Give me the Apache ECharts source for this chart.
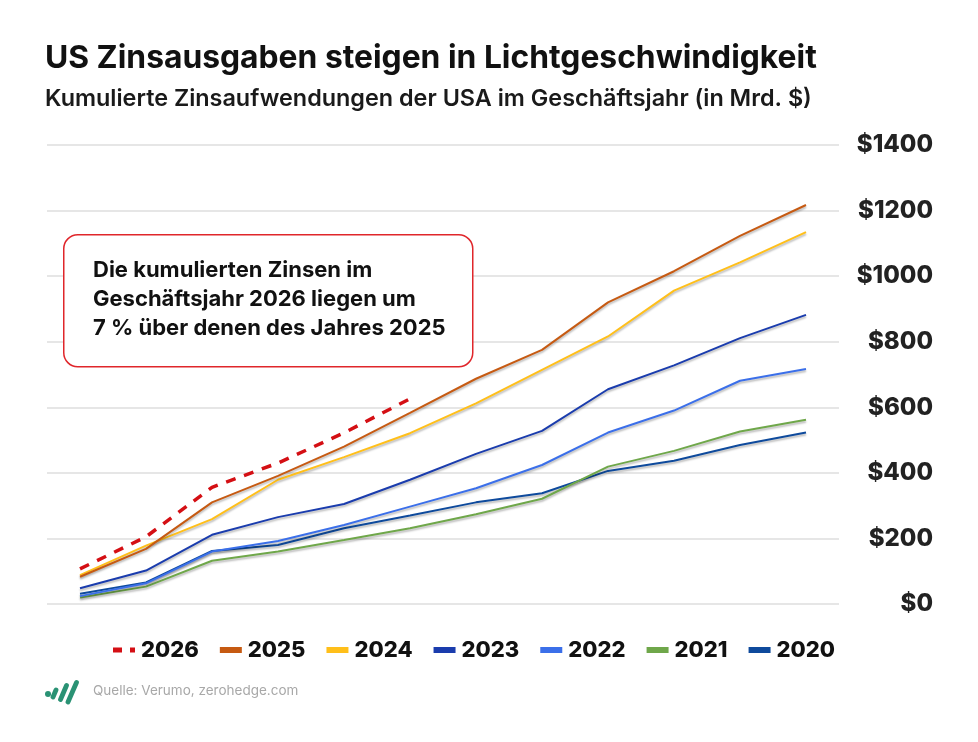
<!DOCTYPE html>
<html>
<head>
<meta charset="utf-8">
<script src="https://cdn.jsdelivr.net/npm/echarts@6/dist/echarts.min.js"></script>
<style>
html,body{margin:0;padding:0;background:#fff;}
#chart{width:978px;height:742px;}
</style>
</head>
<body>
<div id="chart"></div>
<script>
// Fiscal-year months (hidden on the axis)
const months = ['Okt','Nov','Dez','Jan','Feb','Mär','Apr','Mai','Jun','Jul','Aug','Sep'];
const yTicks = [0, 200, 400, 600, 800, 1000, 1200, 1400];

const fy2026 = [107, 205, 356, 430, 522, 626];
const fy2025 = [83, 168, 310, 391, 480, 583, 687, 775, 920, 1015, 1123, 1217];
const fy2024 = [88, 178, 259, 379, 448, 521, 612, 714, 816, 956, 1042, 1134];
const fy2023 = [48, 102, 211, 265, 305, 379, 458, 528, 655, 728, 811, 882];
const fy2022 = [24, 63, 160, 192, 241, 297, 353, 424, 523, 590, 681, 717];
const fy2021 = [20, 53, 132, 160, 195, 231, 274, 321, 419, 467, 526, 562];
const fy2020 = [31, 66, 162, 180, 231, 270, 310, 338, 406, 437, 485, 523];

const FONT = 'Inter, "Noto Sans", sans-serif';
const shadow = {shadowColor: 'rgba(0,0,0,0.28)', shadowBlur: 2, shadowOffsetY: 2};

function lineSeries(name, data, color, extra) {
  return Object.assign({
    name: name, type: 'line', data: data, symbol: 'none', smooth: false,
    lineStyle: Object.assign({color: color, width: 2}, shadow),
    itemStyle: {color: color},
    emphasis: {disabled: true}
  }, extra || {});
}

const chart = echarts.init(document.getElementById('chart'), null, {renderer: 'canvas'});
chart.setOption({
  animation: false,
  backgroundColor: '#ffffff',
  textStyle: {fontFamily: FONT},
  title: [{
    text: 'US Zinsausgaben steigen in Lichtgeschwindigkeit',
    left: 45, top: 42, padding: 0,
    textStyle: {fontFamily: FONT, fontSize: 31.8, fontWeight: 'bold', color: '#111'}
  }, {
    text: 'Kumulierte Zinsaufwendungen der USA im Geschäftsjahr (in Mrd. $)',
    left: 45, top: 87, padding: 0,
    textStyle: {fontFamily: FONT, fontSize: 23.4, fontWeight: 600, color: '#1a1a1a'}
  }],
  grid: {left: 47, width: 792, top: 145, height: 459, containLabel: false},
  xAxis: {
    type: 'category', data: months, boundaryGap: true,
    axisLine: {show: false}, axisTick: {show: false}, axisLabel: {show: false},
    splitLine: {show: false}
  },
  yAxis: {
    type: 'value', position: 'right', min: yTicks[0], max: yTicks[yTicks.length-1], interval: 200,
    axisLine: {show: false}, axisTick: {show: false},
    splitLine: {lineStyle: {color: '#dedede', width: 1.5}},
    axisLabel: {
      formatter: v => '$' + v, align: 'right', margin: 94,
      fontFamily: FONT, fontSize: 24, fontWeight: 800, color: '#222'
    }
  },
  legend: {
    left: 108, top: 634, padding: 5, itemWidth: 22, itemHeight: 6, itemGap: 21,
    textStyle: {fontFamily: FONT, fontSize: 22, fontWeight: 800, color: '#111', padding: [0,0,0,1]},
    data: [
      {name: '2026', icon: 'path://M0,0h9v5h-9z M17,0h5v5h-5z'},
      {name: '2025', icon: 'rect'},
      {name: '2024', icon: 'rect'},
      {name: '2023', icon: 'rect'},
      {name: '2022', icon: 'rect'},
      {name: '2021', icon: 'rect'},
      {name: '2020', icon: 'rect'}
    ]
  },
  series: [
    lineSeries('2020', fy2020, '#0e4a9c'),
    lineSeries('2021', fy2021, '#6fa74a'),
    lineSeries('2022', fy2022, '#3b6fe9'),
    lineSeries('2023', fy2023, '#1a3cad'),
    lineSeries('2024', fy2024, '#ffbf1a'),
    lineSeries('2025', fy2025, '#c65a12'),
    {
      name: '2026', type: 'line', data: fy2026, symbol: 'none',
      lineStyle: {color: '#d40f14', width: 3.5, type: [10, 9]},
      itemStyle: {color: '#d40f14'}, emphasis: {disabled: true}, z: 5
    }
  ],
  graphic: [
    {
      type: 'rect', left: 63, top: 234, z: 10,
      shape: {width: 409, height: 132, r: 14},
      style: {fill: '#ffffff', stroke: '#e0262b', lineWidth: 1.5}
    },
    {
      type: 'text', left: 93, top: 256, z: 11,
      style: {
        text: 'Die kumulierten Zinsen im\nGeschäftsjahr 2026 liegen um\n7 % über denen des Jahres 2025',
        fontFamily: FONT, fontSize: 22, fontWeight: 'bold', lineHeight: 29, fill: '#111'
      }
    },
    {
      type: 'group', left: 45, top: 680, z: 10,
      children: [
        {type: 'circle', shape: {cx: 4, cy: 13.5, r: 3}, style: {fill: '#2a9274'}},
        {type: 'line', shape: {x1: 9, y1: 16.5, x2: 12, y2: 9.5}, style: {stroke: '#2a9274', lineWidth: 4.8, lineCap: 'round'}},
        {type: 'line', shape: {x1: 16.5, y1: 19, x2: 22.5, y2: 5}, style: {stroke: '#2a9274', lineWidth: 4.8, lineCap: 'round'}},
        {type: 'line', shape: {x1: 24, y1: 21.5, x2: 32.5, y2: 2}, style: {stroke: '#2a9274', lineWidth: 4.8, lineCap: 'round'}}
      ]
    },
    {
      type: 'text', left: 93, top: 684, z: 10,
      style: {text: 'Quelle: Verumo, zerohedge.com', fontFamily: FONT, fontSize: 13.5, fill: '#a8a8a8'}
    }
  ]
});
</script>
</body>
</html>
